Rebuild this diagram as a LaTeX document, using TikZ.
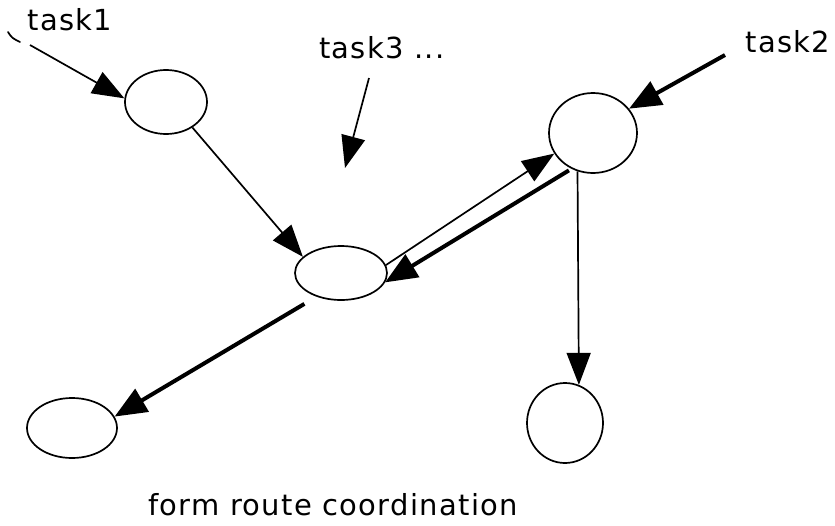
\documentclass[tikz,border=0pt]{standalone}
\usepackage{fontspec}
\setmainfont{DejaVu Sans}[LetterSpace=4.5]
\usetikzlibrary{shapes.geometric,arrows.meta}

\begin{document}
\begin{tikzpicture}[x=1pt,y=-1pt,
                    bubble/.style={ellipse,draw=black,line width=1.7pt,inner sep=0pt},
                    thinflow/.style={line width=1.7pt,-{Triangle[length=32pt 0,width=24pt 0]}},
                    thickflow/.style={line width=4pt,-{Triangle[length=32pt 0,width=26pt 0]}},
                    tasklabel/.style={font=\fontsize{29}{33}\selectfont,inner sep=0pt}]
    \useasboundingbox (0,0) rectangle (835,525);
    % route nodes
    \node (first)  at (166,102) [bubble,minimum width=82pt,minimum height=64pt] {};
    \node (second) at (593,133) [bubble,minimum width=88pt,minimum height=80pt] {};
    \node (meet)   at (341,273) [bubble,minimum width=92pt,minimum height=54pt] {};
    \node (left)   at (72,428)  [bubble,minimum width=90pt,minimum height=60pt] {};
    \node (right)  at (565,423) [bubble,minimum width=76pt,minimum height=80pt] {};
    % incoming tasks
    \node (taskone)   at (70,20)  [tasklabel] {task1};
    \node (tasktwo)   at (788,42) [tasklabel] {task2};
    \node (taskthree) at (382,48) [tasklabel] {task3 ...};
    \coordinate (onein)   at (30,45);
    \coordinate (twoin)   at (725,55);
    \coordinate (threein) at (369,78);
    \coordinate (threeto) at (345,168);
    \draw [line width=1.7pt,line cap=round] (8,32) .. controls (12,38) .. (20,42);
    \draw [thinflow] (onein) to (first.175);
    \draw [thickflow] (twoin) to (second.34);
    \draw [thinflow] (threein) to (threeto);
    % routes between nodes
    \draw [thinflow] (first.-44) to (meet.157);
    \draw [thinflow] (meet.10) to (second.208);
    \draw [thickflow,shorten <=3pt] (second.239) to (meet.-12);
    \draw [thickflow,shorten <=14pt] (meet.224) to (left.15);
    \draw [thinflow] (second.-112) to (right.70);
    \node (caption) at (333,505) [tasklabel] {form route coordination};
\end{tikzpicture}
\end{document}
